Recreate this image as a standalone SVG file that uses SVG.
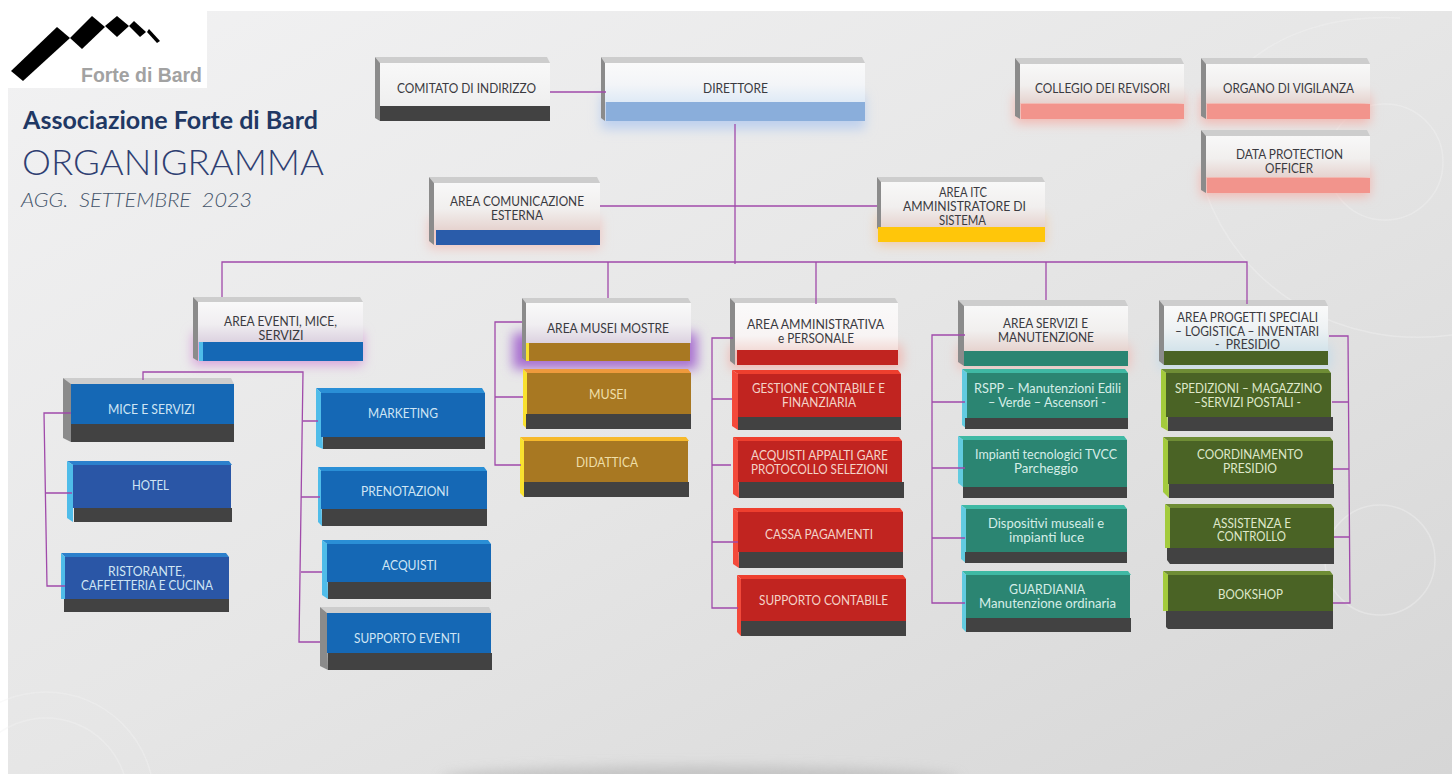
<svg xmlns="http://www.w3.org/2000/svg" width="1452" height="774" viewBox="0 0 1452 774">
<defs>
<linearGradient id="bg" x1="0" y1="0" x2="1" y2="1"><stop offset="0" stop-color="#f2f2f3"/><stop offset=".5" stop-color="#e6e6e6"/><stop offset="1" stop-color="#d6d6d6"/></linearGradient>
<linearGradient id="fBlue" x1="0" y1="0" x2="0" y2="1"><stop offset="0" stop-color="#fafafa"/><stop offset=".55" stop-color="#f3f5f8"/><stop offset="1" stop-color="#dfeaf6"/></linearGradient>
<linearGradient id="fGrey" x1="0" y1="0" x2="0" y2="1"><stop offset="0" stop-color="#f8f8f8"/><stop offset="1" stop-color="#efefef"/></linearGradient>
<linearGradient id="fRed" x1="0" y1="0" x2="0" y2="1"><stop offset="0" stop-color="#f8f8f8"/><stop offset=".55" stop-color="#f1efee"/><stop offset="1" stop-color="#e6d3cf"/></linearGradient>
<linearGradient id="fPurple" x1="0" y1="0" x2="0" y2="1"><stop offset="0" stop-color="#f9f9f9"/><stop offset=".55" stop-color="#f0eef1"/><stop offset="1" stop-color="#dcd2e0"/></linearGradient>
<linearGradient id="fPink" x1="0" y1="0" x2="0" y2="1"><stop offset="0" stop-color="#fafafa"/><stop offset=".7" stop-color="#f8f4f4"/><stop offset="1" stop-color="#f3dcd8"/></linearGradient>
<linearGradient id="fIce" x1="0" y1="0" x2="0" y2="1"><stop offset="0" stop-color="#fafafa"/><stop offset=".5" stop-color="#eef2f4"/><stop offset="1" stop-color="#d3e3ea"/></linearGradient>
<filter id="blur" x="-30%" y="-60%" width="160%" height="220%"><feGaussianBlur stdDeviation="6"/></filter>
</defs>
<style>
text{font-family:"Lato","Open Sans","Liberation Sans",sans-serif;font-size:12.5px;text-anchor:middle;white-space:pre}
.d{fill:#3a3a40}.cb{fill:#cfe5f4}.cg{fill:#efdfa8}.cr{fill:#f4d3c8}.ct{fill:#d5ede7}.co{fill:#dfe8ca}
.lnk{fill:none;stroke:#a04aaa;stroke-width:1.3}
.deco{fill:none;stroke:#f3f3f3;stroke-width:1.5;opacity:.4}
.glow{filter:url(#blur)}
.tg{fill:#cdcdcd}.lg{fill:#8b8b8b}
.dk{fill:#424242}
.blue{fill:#1568b5}.navy{fill:#2a56a6}.gold{fill:#a87822}.red{fill:#c12420}.teal{fill:#2b8572}.olive{fill:#4a6325}
.tB{fill:#2a8fd6}.lB{fill:#4fbce9}.tN{fill:#2c80cc}.tO{fill:#ef9a3c}.tY{fill:#f6b92b}.lY{fill:#f9e12f}.tR{fill:#ee3f2e}.lR{fill:#f3493a}.tT{fill:#3fb9a4}.lT{fill:#62cbe0}.tV{fill:#6f8d35}.lV{fill:#a3cb3c}
</style>
<rect width="1452" height="774" fill="#ffffff"/>
<rect id="background" x="8" y="11" width="1444" height="763" fill="url(#bg)"/>
<ellipse cx="700" cy="778" rx="260" ry="12" fill="#b9b9b9" class="glow" opacity=".7"/>
<g id="decor">
<circle class="deco" cx="46" cy="800" r="82"/><circle class="deco" cx="46" cy="800" r="108"/>
<circle class="deco" cx="1385" cy="162" r="58"/><circle class="deco" cx="1380" cy="560" r="55"/>
<path class="deco" d="M1205 190C1240 290 1340 350 1452 335"/><path class="deco" d="M1240 70C1280 30 1340 15 1400 18"/>
</g>
<g id="logo">
<rect x="8" y="11" width="199" height="77" fill="#ffffff"/>
<polygon points="11,71 57,27 70,38 23,81" fill="#000"/><polygon points="70,38 92,16 105,27 82,49" fill="#000"/><polygon points="105,26 117,16 129,26 117,37" fill="#000"/><polygon points="129,26 134,21 146,32 140,37" fill="#000"/><polygon points="147,32 149,29 160,41 157,43" fill="#000"/>
<text x="141.500" y="82" style="font-family:'Liberation Sans',sans-serif;font-weight:700;font-size:19.500px;fill:#a2a2a2" textLength="121" lengthAdjust="spacingAndGlyphs">Forte di Bard</text>
</g>
<g id="title">
<text x="170.500" y="129" style="font-size:24px;font-weight:700;fill:#1f3864" textLength="295" lengthAdjust="spacingAndGlyphs">Associazione Forte di Bard</text>
<text x="173" y="175" style="font-size:36px;font-weight:300;fill:#2f3f72" textLength="302" lengthAdjust="spacingAndGlyphs">ORGANIGRAMMA</text>
<text x="136.500" y="207" style="font-size:19px;font-style:italic;font-weight:300;fill:#44546a" textLength="231" lengthAdjust="spacingAndGlyphs">AGG.  SETTEMBRE  2023</text>
</g>
<g id="nodes">
<g id="comitato"><polygon class="tg" points="375,57 547,57 550,63 380,63"/><polygon class="lg" points="375,57 380,63 380,121 375,118"/><rect x="380" y="63" width="170" height="43" fill="url(#fGrey)"/><rect class="dk" x="380" y="106" width="170" height="15"/><text class="d" x="466.500" y="93" textLength="139" lengthAdjust="spacingAndGlyphs">COMITATO DI INDIRIZZO</text></g>
<g id="direttore"><rect class="glow" x="601" y="95" width="264" height="34" fill="#bdd0ee"/><polygon class="tg" points="601,57 862,57 865,63 605,63"/><polygon class="lg" points="601,57 605,63 605,121 601,118"/><rect x="605" y="63" width="260" height="39" fill="url(#fBlue)"/><rect x="606" y="102" width="259" height="19" fill="#8aaedb"/><text class="d" x="735.500" y="93" textLength="65" lengthAdjust="spacingAndGlyphs">DIRETTORE</text></g>
<g id="collegio"><rect class="glow" x="1015" y="95" width="169" height="28" fill="#f3b5ae"/><polygon class="tg" points="1015,58 1181,58 1184,64 1020,64"/><polygon class="lg" points="1015,58 1020,64 1020,119 1015,116"/><rect x="1020" y="64" width="164" height="39" fill="url(#fRed)"/><rect x="1021" y="104" width="163" height="15" fill="#f2948c"/><text class="d" x="1102.500" y="93" textLength="135" lengthAdjust="spacingAndGlyphs">COLLEGIO DEI REVISORI</text></g>
<g id="organo"><rect class="glow" x="1201" y="95" width="169" height="28" fill="#f3b5ae"/><polygon class="tg" points="1201,58 1367,58 1370,64 1206,64"/><polygon class="lg" points="1201,58 1206,64 1206,119 1201,116"/><rect x="1206" y="64" width="164" height="39" fill="url(#fRed)"/><rect x="1207" y="104" width="163" height="15" fill="#f2948c"/><text class="d" x="1288.500" y="93" textLength="131" lengthAdjust="spacingAndGlyphs">ORGANO DI VIGILANZA</text></g>
<g id="dpo"><rect class="glow" x="1201" y="168" width="169" height="28" fill="#f3b5ae"/><polygon class="tg" points="1201,130 1367,130 1370,136 1206,136"/><polygon class="lg" points="1201,130 1206,136 1206,193 1201,190"/><rect x="1206" y="136" width="164" height="41" fill="url(#fRed)"/><rect x="1207" y="178" width="163" height="15" fill="#f2948c"/><text class="d" x="1289.500" y="159" textLength="107" lengthAdjust="spacingAndGlyphs">DATA PROTECTION</text><text class="d" x="1289" y="173" textLength="48" lengthAdjust="spacingAndGlyphs">OFFICER</text></g>
<g id="itc"><rect class="glow" x="877" y="215" width="168" height="30" fill="#f0c9a8"/><polygon class="tg" points="877,177 1042,177 1045,182 881,182"/><polygon class="lg" points="877,177 881,182 881,232 877,228"/><rect x="881" y="182" width="164" height="45" fill="url(#fRed)"/><rect x="878" y="227" width="167" height="15" fill="#ffc60a"/><text class="d" x="963" y="197" textLength="48" lengthAdjust="spacingAndGlyphs">AREA ITC</text><text class="d" x="964.500" y="211" textLength="123" lengthAdjust="spacingAndGlyphs">AMMINISTRATORE DI</text><text class="d" x="962.500" y="225" textLength="47" lengthAdjust="spacingAndGlyphs">SISTEMA</text></g>
<g id="comunicazione"><rect class="glow" x="429" y="218" width="171" height="30" fill="#efc3bd"/><polygon class="tg" points="429,177 597,177 600,183 434,183"/><polygon class="lg" points="429,177 434,183 434,245 429,241"/><rect x="434" y="183" width="166" height="47" fill="url(#fRed)"/><rect x="436" y="230" width="164" height="15" fill="#2a5caa"/><text class="d" x="517" y="206" textLength="134" lengthAdjust="spacingAndGlyphs">AREA COMUNICAZIONE</text><text class="d" x="517" y="220" textLength="52" lengthAdjust="spacingAndGlyphs">ESTERNA</text></g>
<g id="eventi"><rect class="glow" x="193" y="333" width="170" height="32" fill="#d79fd9"/><polygon class="tg" points="193,297 360,297 363,302 198,302"/><polygon class="lg" points="193,297 198,302 198,361 193,358"/><rect x="198" y="302" width="165" height="40" fill="url(#fPurple)"/><rect class="lB" x="199" y="342" width="5" height="19"/><rect class="blue" x="203" y="342" width="160" height="19"/><text class="d" x="280.500" y="326" textLength="113" lengthAdjust="spacingAndGlyphs">AREA EVENTI, MICE,</text><text class="d" x="281" y="340" textLength="45" lengthAdjust="spacingAndGlyphs">SERVIZI</text></g>
<g id="mice"><polygon class="tg" points="63,378 231,378 234,384 71,384"/><polygon class="lg" points="63,378 71,384 71,442 63,438"/><rect class="blue" x="71" y="384" width="163" height="40"/><rect class="dk" x="71" y="424" width="163" height="18"/><text class="cb" x="151.500" y="414" textLength="87" lengthAdjust="spacingAndGlyphs">MICE E SERVIZI</text></g>
<g id="hotel"><polygon class="tN" points="67,461 229,461 232,465 73,465"/><polygon class="lB" points="67,461 73,465 73,522 67,518"/><rect class="navy" x="73" y="465" width="158" height="43"/><rect class="dk" x="74" y="508" width="158" height="14"/><text class="cb" x="150.500" y="490" textLength="37" lengthAdjust="spacingAndGlyphs">HOTEL</text></g>
<g id="ristorante"><polygon class="tN" points="61,553 226,553 229,557 65,557"/><polygon class="lB" points="61,553 65,557 65,599 61,599"/><rect class="navy" x="65" y="557" width="164" height="42"/><rect class="dk" x="64" y="599" width="165" height="13"/><text class="cb" x="146.500" y="576" textLength="77" lengthAdjust="spacingAndGlyphs">RISTORANTE,</text><text class="cb" x="147" y="590" textLength="132" lengthAdjust="spacingAndGlyphs">CAFFETTERIA E CUCINA</text></g>
<g id="marketing"><polygon class="tB" points="316,388 482,388 485,393 321,393"/><polygon class="lB" points="316,388 321,393 323,449 316,446"/><rect class="blue" x="321" y="393" width="164" height="44"/><rect class="dk" x="323" y="437" width="162" height="12"/><text class="cb" x="403" y="418" textLength="70" lengthAdjust="spacingAndGlyphs">MARKETING</text></g>
<g id="prenotazioni"><polygon class="tB" points="318,467 484,467 487,471 321,471"/><polygon class="lB" points="318,467 321,471 322,526 318,522"/><rect class="blue" x="321" y="471" width="166" height="38"/><rect class="dk" x="322" y="509" width="165" height="17"/><text class="cb" x="405" y="496" textLength="88" lengthAdjust="spacingAndGlyphs">PRENOTAZIONI</text></g>
<g id="acquisti"><polygon class="tB" points="322,540 488,540 491,544 327,544"/><polygon class="lB" points="322,540 327,544 328,599 322,595"/><rect class="blue" x="327" y="544" width="164" height="38"/><rect class="dk" x="328" y="582" width="163" height="17"/><text class="cb" x="409.500" y="570" textLength="55" lengthAdjust="spacingAndGlyphs">ACQUISTI</text></g>
<g id="supporto-eventi"><polygon class="tg" points="320,607 489,607 492,613 327,613"/><polygon class="lg" points="320,607 327,613 328,670 320,666"/><rect class="blue" x="327" y="613" width="164" height="40"/><rect class="dk" x="328" y="653" width="164" height="17"/><text class="cb" x="407" y="643" textLength="106" lengthAdjust="spacingAndGlyphs">SUPPORTO EVENTI</text></g>
<g id="area-musei"><rect class="glow" x="513" y="333" width="184" height="36" fill="#a86fd0"/><polygon class="tg" points="522,298 688,298 691,303 526,303"/><polygon class="lg" points="522,298 526,303 526,361 522,358"/><rect x="526" y="303" width="165" height="40" fill="url(#fPurple)"/><rect class="lY" x="526" y="343" width="3" height="18"/><rect class="gold" x="529" y="343" width="161" height="18"/><text class="d" x="608" y="333" textLength="122" lengthAdjust="spacingAndGlyphs">AREA MUSEI MOSTRE</text></g>
<g id="musei"><polygon class="tO" points="523,369 688,369 691,373 527,373"/><polygon class="lY" points="523,369 527,373 527,429 523,425"/><rect class="gold" x="527" y="373" width="164" height="41"/><rect class="dk" x="526" y="414" width="165" height="15"/><text class="cg" x="608" y="399" textLength="38" lengthAdjust="spacingAndGlyphs">MUSEI</text></g>
<g id="didattica"><polygon class="tY" points="520,437 686,437 689,441 524,441"/><polygon class="lY" points="520,437 524,441 524,497 520,493"/><rect class="gold" x="524" y="441" width="164" height="41"/><rect class="dk" x="524" y="482" width="165" height="15"/><text class="cg" x="607" y="467" textLength="62" lengthAdjust="spacingAndGlyphs">DIDATTICA</text></g>
<g id="area-amministrativa"><rect class="glow" x="730" y="345" width="172" height="24" fill="#f0b7b0"/><polygon class="tg" points="730,298 895,298 898,303 735,303"/><polygon class="lg" points="730,298 735,303 735,365 730,361"/><rect x="735" y="303" width="163" height="47" fill="url(#fPink)"/><rect class="red" x="737" y="350" width="161" height="15"/><text class="d" x="815.500" y="329" textLength="137" lengthAdjust="spacingAndGlyphs">AREA AMMINISTRATIVA</text><text class="d" x="816" y="343" textLength="76" lengthAdjust="spacingAndGlyphs">e PERSONALE</text></g>
<g id="gestione"><polygon class="tR" points="732,370 898,370 901,374 738,374"/><polygon class="lR" points="732,370 738,374 738,430 732,426"/><rect class="red" x="738" y="374" width="163" height="43"/><rect class="dk" x="738" y="417" width="163" height="13"/><text class="cr" x="818.500" y="393" textLength="133" lengthAdjust="spacingAndGlyphs">GESTIONE CONTABILE E</text><text class="cr" x="819" y="407" textLength="74" lengthAdjust="spacingAndGlyphs">FINANZIARIA</text></g>
<g id="acquisti-appalti"><polygon class="tR" points="733,437 899,437 902,441 738,441"/><polygon class="lR" points="733,437 738,441 739,498 733,494"/><rect class="red" x="738" y="441" width="164" height="41"/><rect class="dk" x="739" y="482" width="165" height="16"/><text class="cr" x="819.500" y="460" textLength="137" lengthAdjust="spacingAndGlyphs">ACQUISTI APPALTI GARE</text><text class="cr" x="819.500" y="474" textLength="137" lengthAdjust="spacingAndGlyphs">PROTOCOLLO SELEZIONI</text></g>
<g id="cassa"><polygon class="tR" points="733,508 900,508 903,512 738,512"/><polygon class="lR" points="733,508 738,512 739,568 733,564"/><rect class="red" x="738" y="512" width="165" height="40"/><rect class="dk" x="739" y="552" width="164" height="16"/><text class="cr" x="819" y="539" textLength="108" lengthAdjust="spacingAndGlyphs">CASSA PAGAMENTI</text></g>
<g id="supporto-contabile"><polygon class="tR" points="737,575 903,575 906,579 741,579"/><polygon class="lR" points="737,575 741,579 741,636 737,632"/><rect class="red" x="741" y="579" width="165" height="42"/><rect class="dk" x="741" y="621" width="165" height="15"/><text class="cr" x="823.500" y="605" textLength="129" lengthAdjust="spacingAndGlyphs">SUPPORTO CONTABILE</text></g>
<g id="area-servizi"><rect class="glow" x="958" y="345" width="172" height="24" fill="#eec0ba"/><polygon class="tg" points="958,300 1125,300 1128,306 964,306"/><polygon class="lg" points="958,300 964,306 964,366 958,362"/><rect x="964" y="306" width="164" height="45" fill="url(#fRed)"/><rect class="teal" x="964" y="351" width="164" height="15"/><text class="d" x="1045.500" y="328" textLength="85" lengthAdjust="spacingAndGlyphs">AREA SERVIZI E</text><text class="d" x="1046" y="342" textLength="96" lengthAdjust="spacingAndGlyphs">MANUTENZIONE</text></g>
<g id="rspp"><polygon class="tT" points="962,369 1125,369 1128,373 967,373"/><polygon class="lT" points="962,369 967,373 967,429 962,425"/><rect class="teal" x="967" y="373" width="161" height="45"/><rect class="dk" x="965" y="418" width="163" height="11"/><text class="ct" x="1047.500" y="393" textLength="147" lengthAdjust="spacingAndGlyphs">RSPP – Manutenzioni Edili</text><text class="ct" x="1047" y="407" textLength="118" lengthAdjust="spacingAndGlyphs">– Verde – Ascensori -</text></g>
<g id="impianti"><polygon class="tT" points="958,436 1124,436 1127,440 963,440"/><polygon class="lT" points="958,436 963,440 963,487 958,483"/><rect class="teal" x="963" y="440" width="164" height="47"/><rect class="dk" x="963" y="487" width="164" height="11"/><text class="ct" x="1046" y="459" textLength="142" lengthAdjust="spacingAndGlyphs">Impianti tecnologici TVCC</text><text class="ct" x="1046" y="473" textLength="64" lengthAdjust="spacingAndGlyphs">Parcheggio</text></g>
<g id="dispositivi"><polygon class="tT" points="961,505 1124,505 1127,509 966,509"/><polygon class="lT" points="961,505 966,509 966,563 961,559"/><rect class="teal" x="966" y="509" width="161" height="43"/><rect class="dk" x="965" y="552" width="162" height="11"/><text class="ct" x="1046" y="528" textLength="116" lengthAdjust="spacingAndGlyphs">Dispositivi museali e</text><text class="ct" x="1046.500" y="542" textLength="75" lengthAdjust="spacingAndGlyphs">impianti luce</text></g>
<g id="guardiania"><polygon class="tT" points="962,571 1128,571 1131,575 966,575"/><polygon class="lT" points="962,571 966,575 966,632 962,628"/><rect class="teal" x="966" y="575" width="164" height="43"/><rect class="dk" x="966" y="618" width="165" height="14"/><text class="ct" x="1047" y="594" textLength="76" lengthAdjust="spacingAndGlyphs">GUARDIANIA</text><text class="ct" x="1047.500" y="608" textLength="137" lengthAdjust="spacingAndGlyphs">Manutenzione ordinaria</text></g>
<g id="area-progetti"><rect class="glow" x="1159" y="345" width="172" height="24" fill="#c6dbe8"/><polygon class="tg" points="1159,300 1325,300 1328,306 1164,306"/><polygon class="lg" points="1159,300 1164,306 1164,365 1159,361"/><rect x="1164" y="306" width="164" height="45" fill="url(#fIce)"/><rect class="olive" x="1164" y="351" width="164" height="14"/><text class="d" x="1247.500" y="322" textLength="141" lengthAdjust="spacingAndGlyphs">AREA PROGETTI SPECIALI</text><text class="d" x="1247" y="336" textLength="144" lengthAdjust="spacingAndGlyphs">– LOGISTICA – INVENTARI</text><text class="d" x="1247.500" y="349" textLength="65" lengthAdjust="spacingAndGlyphs">-  PRESIDIO</text></g>
<g id="spedizioni"><polygon class="tV" points="1161,369 1328,369 1331,373 1166,373"/><polygon class="lV" points="1161,369 1166,373 1168,431 1161,427"/><rect class="olive" x="1166" y="373" width="165" height="44"/><rect class="dk" x="1168" y="417" width="165" height="14"/><text class="co" x="1248.500" y="393" textLength="147" lengthAdjust="spacingAndGlyphs">SPEDIZIONI – MAGAZZINO</text><text class="co" x="1247.500" y="407" textLength="107" lengthAdjust="spacingAndGlyphs">–SERVIZI POSTALI -</text></g>
<g id="coordinamento"><polygon class="tV" points="1163,437 1330,437 1333,441 1168,441"/><polygon class="lV" points="1163,437 1168,441 1169,498 1163,492"/><rect class="olive" x="1168" y="441" width="165" height="43"/><rect class="dk" x="1169" y="484" width="165" height="14"/><text class="co" x="1250" y="459" textLength="106" lengthAdjust="spacingAndGlyphs">COORDINAMENTO</text><text class="co" x="1250" y="473" textLength="54" lengthAdjust="spacingAndGlyphs">PRESIDIO</text></g>
<g id="assistenza"><polygon class="tV" points="1165,504 1331,504 1334,508 1170,508"/><polygon class="lV" points="1165,504 1170,508 1170,548 1165,548"/><rect class="olive" x="1170" y="508" width="164" height="40"/><path class="dk" d="M1167 548H1334V564H1170L1167 560Z"/><text class="co" x="1252" y="528" textLength="78" lengthAdjust="spacingAndGlyphs">ASSISTENZA E</text><text class="co" x="1251.500" y="541" textLength="69" lengthAdjust="spacingAndGlyphs">CONTROLLO</text></g>
<g id="bookshop"><polygon class="tV" points="1163,571 1330,571 1333,575 1168,575"/><polygon class="lV" points="1163,571 1168,575 1168,611 1163,611"/><rect class="olive" x="1168" y="575" width="165" height="36"/><path class="dk" d="M1166 611H1333V629H1168L1166 627Z"/><text class="co" x="1250.500" y="599" textLength="65" lengthAdjust="spacingAndGlyphs">BOOKSHOP</text></g>
</g>
<g id="connectors" class="lnk">
<path d="M550 92H606"/>
<path d="M735 124V264"/>
<path d="M600 206H877"/>
<path d="M222 297V262H1247V304"/>
<path d="M608 262V298M816 262V304M1046 262V300"/>
<path d="M143 380V372H303L299 642H320"/>
<path d="M303 421H318M301 497H320M301 572H322"/>
<path d="M71 413H44L47 586H65M46 493H72"/>
<path d="M522 322H495V465H521M495 397H523"/>
<path d="M733 338H712V608H738M712 399H732M712 465H731M712 542H738"/>
<path d="M965 335H932V603H965M932 402H965M932 468H965M932 538H965"/>
<path d="M1329 336H1348L1350 603H1333M1332 402H1348M1333 469H1349M1334 537H1349"/>
</g>
</svg>
